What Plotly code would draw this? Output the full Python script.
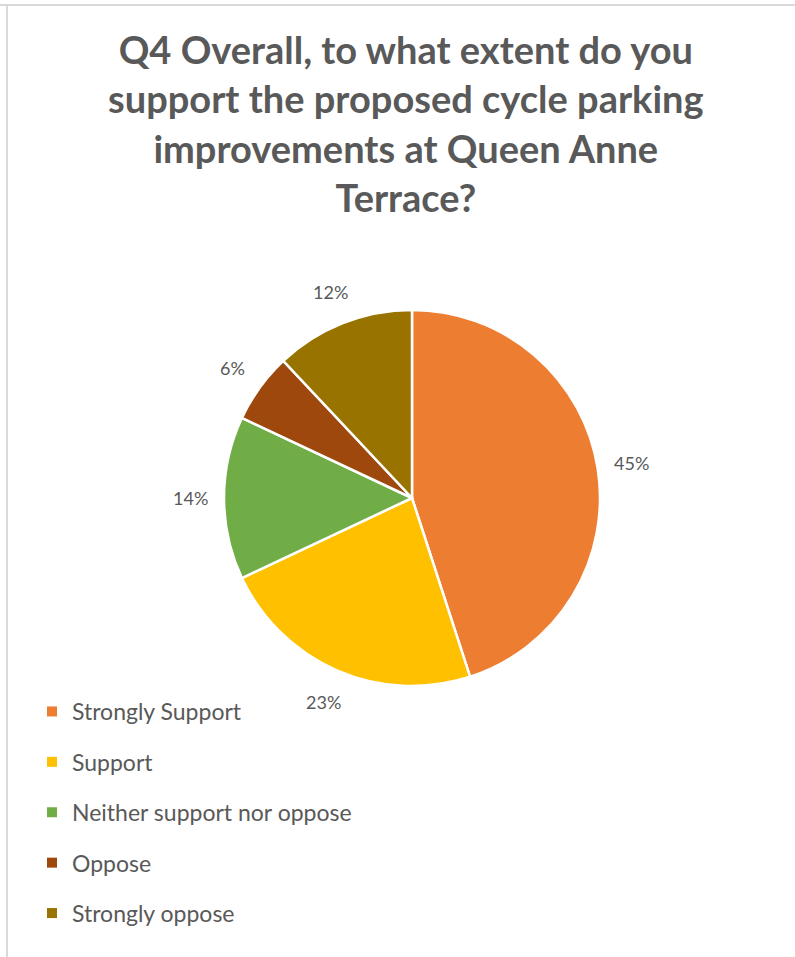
import math
import plotly.graph_objects as go

# Survey responses (percent of respondents)
categories = ["Strongly Support", "Support", "Neither support nor oppose", "Oppose", "Strongly oppose"]
shares = [45, 23, 14, 6, 12]
colors = ["#ED7D31", "#FFC000", "#70AD47", "#9E480E", "#997300"]

title_lines = ["Q4 Overall, to what extent do you",
               "support the proposed cycle parking",
               "improvements at Queen Anne",
               "Terrace?"]

W, H = 795, 957
TEXT_GREY = "#595959"
FONT = "Lato"

# pie placement in pixels
cx, cy, R = 412, 498, 188
label_r = R + 34

fig = go.Figure()

fig.add_trace(go.Pie(
    labels=categories,
    values=shares,
    marker=dict(colors=colors, line=dict(color="white", width=2.5)),
    sort=False,
    direction="clockwise",
    rotation=0,
    textinfo="none",
    hoverinfo="label+percent",
    showlegend=False,
    domain=dict(x=[(cx - R) / W, (cx + R) / W], y=[1 - (cy + R) / H, 1 - (cy - R) / H]),
))

# percentage labels outside each slice, placed at the slice mid-angle
total = sum(shares)
cum = 0
for v in shares:
    mid = (cum + v / 2) / total * 2 * math.pi
    cum += v
    px = cx + label_r * math.sin(mid)
    py = cy - label_r * math.cos(mid)
    fig.add_annotation(
        x=px / W, y=1 - py / H, xref="paper", yref="paper",
        text=f"{round(v / total * 100)}%", showarrow=False,
        xanchor="center", yanchor="middle",
        font=dict(family=FONT, size=18, color=TEXT_GREY),
    )

# chart title
fig.add_annotation(
    x=406 / W, y=1 - 123 / H, xref="paper", yref="paper",
    text="<br>".join(title_lines), showarrow=False,
    xanchor="center", yanchor="middle", align="center",
    font=dict(family=FONT, size=38, color=TEXT_GREY, weight="bold"),
)

# legend entries
for i, (name, col) in enumerate(zip(categories, colors)):
    fig.add_trace(go.Scatter(
        x=[None], y=[None], mode="markers", name=name,
        marker=dict(symbol="square", size=10, color=col),
        legendgroup=f"g{i}", showlegend=True,
    ))

fig.update_layout(
    width=W, height=H,
    margin=dict(l=0, r=0, t=0, b=0),
    paper_bgcolor="white", plot_bgcolor="white",
    xaxis=dict(visible=False), yaxis=dict(visible=False),
    legend=dict(
        x=32 / W, y=1 - 690 / H, xanchor="left", yanchor="top",
        orientation="v", tracegroupgap=17.5, traceorder="grouped",
        font=dict(family=FONT, size=23, color=TEXT_GREY),
        bgcolor="rgba(0,0,0,0)",
    ),
    shapes=[
        dict(type="line", xref="paper", yref="paper", x0=0, x1=1, y0=1 - 5 / H, y1=1 - 5 / H,
             line=dict(color="#D9D9D9", width=2)),
        dict(type="line", xref="paper", yref="paper", x0=7 / W, x1=7 / W, y0=0, y1=1 - 5 / H,
             line=dict(color="#D9D9D9", width=2)),
    ],
)

fig.write_html("out.html")
